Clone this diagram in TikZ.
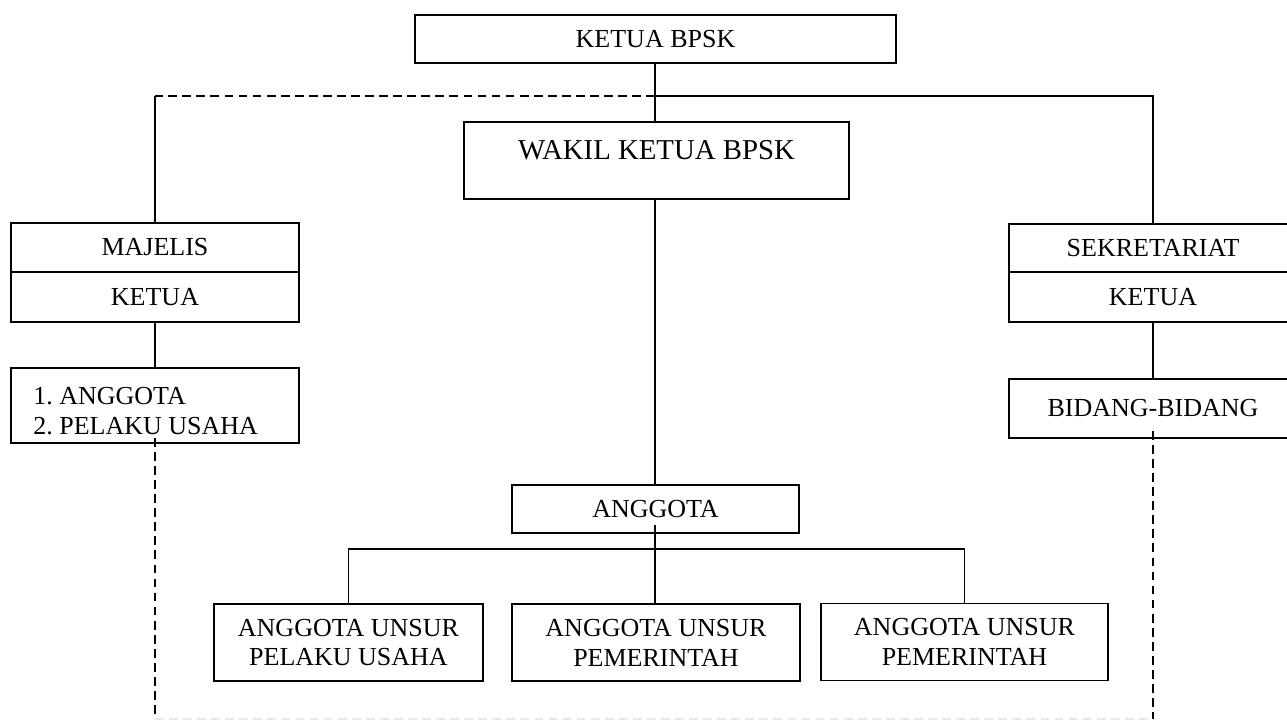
\documentclass[tikz,border=0pt]{standalone}
\usepackage{fontspec}
\setmainfont{Liberation Serif}
\usepackage{tikz}
\usepackage{xcolor}

\begin{document}
\begin{tikzpicture}[x=0.02cm,y=-0.02cm,
        box/.style={draw,line width=0.8pt,rectangle,inner sep=0pt,
            font=\fontsize{14.8}{17}\selectfont,align=center},
        link/.style={line width=0.75pt},
        dashlink/.style={line width=1.5pt,dash pattern=on 5pt off 3pt},
        faintlink/.style={line width=1.1pt,gray!18,dash pattern=on 5pt off 3pt}]
                \clip (0,0) rectangle (1287,720);
                \fill[white] (0,0) rectangle (1287,720);

                % top of the chart
                \node[box,minimum width=9.62cm,minimum height=0.96cm] (ketua) at (655.5,39) {KETUA BPSK};
                \node[box,minimum width=7.7cm,minimum height=1.54cm] (wakil) at (656.5,160.5) {};
                \node[font=\fontsize{16.4}{19}\selectfont,inner sep=0pt] (wakiltxt) at (656.5,150) {WAKIL KETUA BPSK};

                % left column
                \node[box,minimum width=5.76cm,minimum height=0.98cm] (majelis) at (155,247.5) {MAJELIS};
                \node[box,minimum width=5.76cm,minimum height=1cm] (mketua) at (155,297) {KETUA};
                \node[box,minimum width=5.76cm,minimum height=1.5cm] (mlist) at (155,405.5) {};
                \node[anchor=west,inner sep=0pt,align=left,font=\fontsize{14.8}{17}\selectfont] (mlisttxt) at (33,411) {1.\ ANGGOTA\\2.\ PELAKU USAHA};

                % right column (runs past the edge)
                \node[box,minimum width=5.76cm,minimum height=0.96cm] (sek) at (1153,248) {SEKRETARIAT};
                \node[box,minimum width=5.76cm,minimum height=1cm] (sketua) at (1153,297) {KETUA};
                \node[box,minimum width=5.76cm,minimum height=1.18cm] (bidang) at (1153,408.5) {BIDANG-BIDANG};

                % members
                \node[box,minimum width=5.74cm,minimum height=0.96cm] (anggota) at (655.5,509) {ANGGOTA};
                \node[box,minimum width=5.38cm,minimum height=1.54cm] (unsura) at (348.5,642.5) {ANGGOTA UNSUR\\PELAKU USAHA};
                \node[box,minimum width=5.76cm,minimum height=1.54cm] (unsurb) at (656,642.5) {ANGGOTA UNSUR\\PEMERINTAH};
                \node[box,minimum width=5.74cm,minimum height=1.54cm] (unsurc) at (964.5,642) {ANGGOTA UNSUR\\PEMERINTAH};

                \coordinate (split) at (655,96);
                \coordinate (ainner) at (655,525);
                \coordinate (bus) at (655,549);
                \coordinate (mdash) at (155,438);
                \coordinate (bdash) at (1153,431);
                \coordinate (lowleft) at (155,719);
                \coordinate (lowright) at (1153,719);

                % solid lines
                \draw[link] (ketua.south -| split) -- (wakil.north -| split);
                \draw[link] (split) -- (sek.north |- split) -- (sek.north);
                \draw[link] (majelis.north |- split) -- (majelis.north);
                \draw[link] (mketua.south) -- (mlist.north);
                \draw[link] (sketua.south) -- (bidang.north);
                \draw[link] (wakil.south -| split) -- (anggota.north -| split);
                \draw[link] (ainner) -- (unsurb.north -| ainner);
                \draw[link] (unsura.north) -- (unsura.north |- bus) -- (unsurc.north |- bus) -- (unsurc.north);

                % dashed lines
                \draw[dashlink] (split) -- (majelis.north |- split);
                \draw[faintlink] (lowleft) -- (lowright);
                \draw[dashlink] (mdash) -- (lowleft);
                \draw[dashlink] (bdash) -- (lowright);
            \end{tikzpicture}
\end{document}
